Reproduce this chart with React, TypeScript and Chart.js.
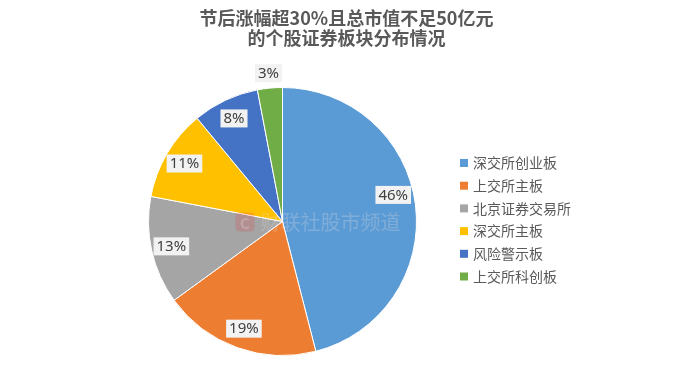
import React, { useEffect, useRef } from "react";
import { Chart, registerables } from "chart.js";

Chart.register(...registerables);

const titleLines = ["节后涨幅超30%且总市值不足50亿元", "的个股证券板块分布情况"];
const categories = ["深交所创业板", "上交所主板", "北京证券交易所", "深交所主板", "风险警示板", "上交所科创板"];
const shares = [46, 19, 13, 11, 8, 3];
const colors = ["#5B9BD5", "#ED7D31", "#A5A5A5", "#FFC000", "#4472C4", "#70AD47"];
const watermark = "财联社股市频道";

const CJK = '"Noto Sans CJK SC", "Noto Sans", sans-serif';

const overlayPlugin = {
  id: "overlay",
  afterDatasetsDraw(chart: any) {
    const ctx = chart.ctx as CanvasRenderingContext2D;
    const W = chart.width;
    const meta = chart.getDatasetMeta(0);
    const arcs = meta.data as any[];
    const cx = arcs[0].x;
    const cy = arcs[0].y;
    const R = arcs[0].outerRadius;

    ctx.save();
    // Title
    ctx.fillStyle = "#595959";
    ctx.font = `bold 18px ${CJK}`;
    ctx.textAlign = "center";
    ctx.textBaseline = "middle";
    ctx.fillText(titleLines[0], W / 2, 18);
    ctx.fillText(titleLines[1], W / 2, 38);

    // Watermark
    ctx.globalAlpha = 0.2;
    ctx.fillStyle = "#E0393E";
    const lx = cx - 47, ly = cy - 9, ls = 19;
    ctx.beginPath();
    (ctx as any).roundRect ? (ctx as any).roundRect(lx, ly, ls, ls, 4) : ctx.rect(lx, ly, ls, ls);
    ctx.fill();
    ctx.fillStyle = "#ffffff";
    ctx.font = `bold 15px ${CJK}`;
    ctx.textAlign = "center";
    ctx.fillText("C", lx + ls / 2, ly + ls / 2 + 1);
    ctx.globalAlpha = 0.24;
    ctx.fillStyle = "#F2E6E6";
    ctx.font = `20px ${CJK}`;
    ctx.textAlign = "left";
    ctx.fillText(watermark, lx + 25, cy + 1);
    ctx.globalAlpha = 1;

    // Data labels
    const total = shares.reduce((a, b) => a + b, 0);
    ctx.font = `15px "Noto Sans", "Open Sans", sans-serif`;
    ctx.textAlign = "center";
    ctx.textBaseline = "middle";
    arcs.forEach((arc: any, i: number) => {
      const span = arc.endAngle - arc.startAngle;
      // large slices: label nudged toward the slice start (best-fit style)
      const mid = (arc.startAngle + arc.endAngle) / 2 - (span > 2.5 ? 0.11 : 0);
      const r = span < 0.3 ? R + 15 : R * 0.85;
      const x = cx + Math.cos(mid) * r;
      const y = cy + Math.sin(mid) * r;
      const txt = Math.round((shares[i] / total) * 100) + "%";
      const tw = ctx.measureText(txt).width;
      const bw = tw + 6, bh = 18;
      ctx.fillStyle = "#F2F2F2";
      ctx.fillRect(x - bw / 2, y - bh / 2, bw, bh);
      ctx.fillStyle = "#404040";
      ctx.fillText(txt, x, y + 0.5);
    });

    // Legend
    const legX = 460;
    const legY0 = 163;
    const step = 22.7;
    ctx.font = `14px ${CJK}`;
    ctx.textAlign = "left";
    ctx.textBaseline = "middle";
    chart.data.labels.forEach((lab: string, i: number) => {
      const y = legY0 + i * step;
      ctx.fillStyle = chart.data.datasets[0].backgroundColor[i];
      ctx.fillRect(legX, y - 4, 8, 8);
      ctx.fillStyle = "#595959";
      ctx.fillText(lab, legX + 13, y);
    });
    ctx.restore();
  },
};

export default function App() {
  const ref = useRef<HTMLCanvasElement>(null);
  useEffect(() => {
    if (!ref.current) return;
    const chart = new Chart(ref.current, {
      type: "pie",
      data: {
        labels: categories,
        datasets: [
          {
            data: shares,
            backgroundColor: colors,
            borderColor: "#ffffff",
            borderWidth: 1,
          },
        ],
      },
      options: {
        responsive: false,
        animation: false,
        events: [],
        layout: { padding: { left: 148, right: 276, top: 87, bottom: 10 } },
        plugins: {
          legend: { display: false },
          title: { display: false },
          tooltip: { enabled: false },
        },
      },
      plugins: [overlayPlugin],
    });
    return () => chart.destroy();
  }, []);
  return (
    <div style={{ position: "fixed", left: 0, top: 0, width: 693, height: 366, background: "#ffffff" }}>
      <canvas ref={ref} width={693} height={366} style={{ width: 693, height: 366 }} />
    </div>
  );
}
